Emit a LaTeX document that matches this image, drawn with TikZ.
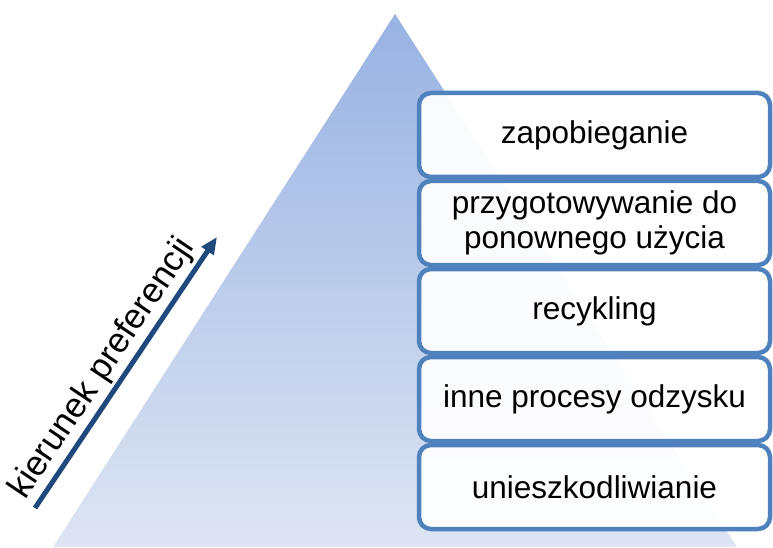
\documentclass[tikz,border=0pt]{standalone}
\usepackage{fontspec}
\setmainfont{Liberation Sans}
\usetikzlibrary{arrows.meta}
\definecolor{tritop}{RGB}{152,178,226}
\definecolor{tribot}{RGB}{222,229,243}
\definecolor{boxline}{RGB}{79,129,189}
\definecolor{arrowblue}{RGB}{31,73,125}
\tikzset{
  levelbox/.style={draw=boxline, line width=4.5pt, rounded corners=12pt,
    fill=white, fill opacity=0.94, text opacity=1,
    minimum width=351pt, minimum height=84pt, inner sep=0pt,
    align=center, font=\fontsize{31.5}{35}\selectfont, text=black},
  prefarrow/.style={draw=arrowblue, line width=5pt,
    -{Triangle[length=17pt,width=14pt]}},
  preflabel/.style={font=\fontsize{35}{40}\selectfont, text=black, inner sep=5pt}
}
\begin{document}
\begin{tikzpicture}[x=1pt,y=1pt]
\useasboundingbox (0,0) rectangle (773,547);
\shade[top color=tritop, bottom color=tribot] (395,533) -- (53,0) -- (737,0) -- cycle;
\node[levelbox] (b1) at (594.5,412) {zapobieganie};
\node[levelbox] (b2) at (594.5,324) {przygotowywanie do\\ponownego użycia};
\node[levelbox] (b3) at (594.5,236) {recykling};
\node[levelbox] (b4) at (594.5,148) {inne procesy odzysku};
\node[levelbox] (b5) at (594.5,60) {unieszkodliwianie};
\coordinate (as) at (35,39);
\coordinate (ae) at (217,310);
\draw[prefarrow] (as) -- (ae);
\path (as) -- (ae) node[preflabel, pos=0.47, sloped, above] (lbl) {kierunek preferencji};
\end{tikzpicture}
\end{document}
